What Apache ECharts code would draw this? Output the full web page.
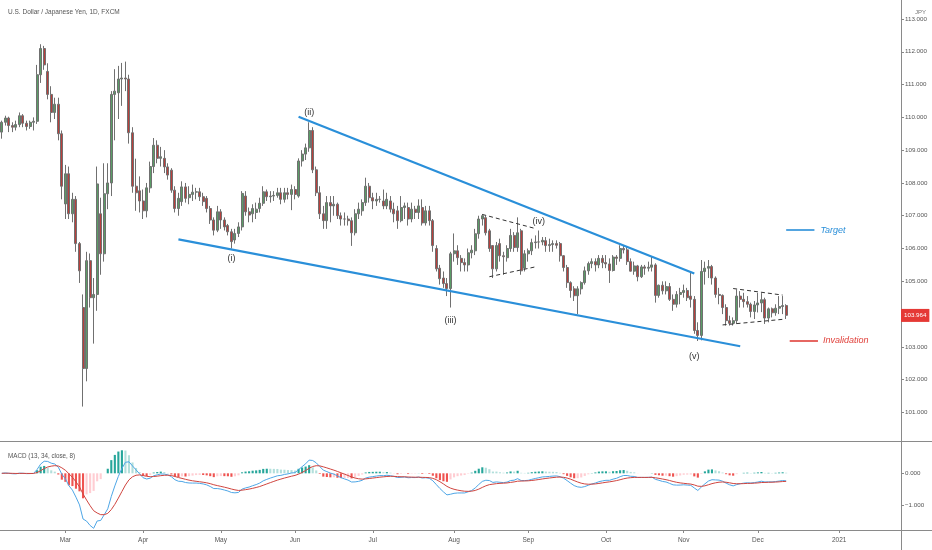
<!DOCTYPE html>
<html><head><meta charset="utf-8">
<script src="https://cdn.jsdelivr.net/npm/echarts@6/dist/echarts.min.js"></script>
<style>html,body{margin:0;padding:0;background:#fff}#c{width:932px;height:550px}</style>
</head><body><div id="c"></div>
<script>
// ---------- categories (trading days, incl. empty future space) ----------
const dates = [
"2020-02-05","2020-02-06","2020-02-07","2020-02-10","2020-02-11","2020-02-12","2020-02-13","2020-02-14","2020-02-17","2020-02-18","2020-02-19","2020-02-20","2020-02-21","2020-02-24","2020-02-25","2020-02-26","2020-02-27","2020-02-28",
"2020-03-02","2020-03-03","2020-03-04","2020-03-05","2020-03-06","2020-03-09","2020-03-10","2020-03-11","2020-03-12","2020-03-13","2020-03-16","2020-03-17","2020-03-18","2020-03-19","2020-03-20","2020-03-23","2020-03-24","2020-03-25","2020-03-26","2020-03-27","2020-03-30","2020-03-31",
"2020-04-01","2020-04-02","2020-04-03","2020-04-06","2020-04-07","2020-04-08","2020-04-09","2020-04-10","2020-04-13","2020-04-14","2020-04-15","2020-04-16","2020-04-17","2020-04-20","2020-04-21","2020-04-22","2020-04-23","2020-04-24","2020-04-27","2020-04-28","2020-04-29","2020-04-30",
"2020-05-01","2020-05-04","2020-05-05","2020-05-06","2020-05-07","2020-05-08","2020-05-11","2020-05-12","2020-05-13","2020-05-14","2020-05-15","2020-05-18","2020-05-19","2020-05-20","2020-05-21","2020-05-22","2020-05-25","2020-05-26","2020-05-27","2020-05-28","2020-05-29",
"2020-06-01","2020-06-02","2020-06-03","2020-06-04","2020-06-05","2020-06-08","2020-06-09","2020-06-10","2020-06-11","2020-06-12","2020-06-15","2020-06-16","2020-06-17","2020-06-18","2020-06-19","2020-06-22","2020-06-23","2020-06-24","2020-06-25","2020-06-26","2020-06-29","2020-06-30",
"2020-07-01","2020-07-02","2020-07-03","2020-07-06","2020-07-07","2020-07-08","2020-07-09","2020-07-10","2020-07-13","2020-07-14","2020-07-15","2020-07-16","2020-07-17","2020-07-20","2020-07-21","2020-07-22","2020-07-23","2020-07-24","2020-07-27","2020-07-28","2020-07-29","2020-07-30","2020-07-31",
"2020-08-03","2020-08-04","2020-08-05","2020-08-06","2020-08-07","2020-08-10","2020-08-11","2020-08-12","2020-08-13","2020-08-14","2020-08-17","2020-08-18","2020-08-19","2020-08-20","2020-08-21","2020-08-24","2020-08-25","2020-08-26","2020-08-27","2020-08-28","2020-08-31",
"2020-09-01","2020-09-02","2020-09-03","2020-09-04","2020-09-07","2020-09-08","2020-09-09","2020-09-10","2020-09-11","2020-09-14","2020-09-15","2020-09-16","2020-09-17","2020-09-18","2020-09-21","2020-09-22","2020-09-23","2020-09-24","2020-09-25","2020-09-28","2020-09-29","2020-09-30",
"2020-10-01","2020-10-02","2020-10-05","2020-10-06","2020-10-07","2020-10-08","2020-10-09","2020-10-12","2020-10-13","2020-10-14","2020-10-15","2020-10-16","2020-10-19","2020-10-20","2020-10-21","2020-10-22","2020-10-23","2020-10-26","2020-10-27","2020-10-28","2020-10-29","2020-10-30",
"2020-11-02","2020-11-03","2020-11-04","2020-11-05","2020-11-06","2020-11-09","2020-11-10","2020-11-11","2020-11-12","2020-11-13","2020-11-16","2020-11-17","2020-11-18","2020-11-19","2020-11-20","2020-11-23","2020-11-24","2020-11-25","2020-11-26","2020-11-27","2020-11-30",
"2020-12-01","2020-12-02","2020-12-03","2020-12-04","2020-12-07","2020-12-08","2020-12-09","2020-12-10","2020-12-11","2020-12-14","2020-12-15","2020-12-16","2020-12-17","2020-12-18","2020-12-21","2020-12-22","2020-12-23","2020-12-24","2020-12-25","2020-12-28","2020-12-29","2020-12-30","2020-12-31",
"2021-01-01","2021-01-04","2021-01-05","2021-01-06","2021-01-07","2021-01-08","2021-01-11","2021-01-12","2021-01-13","2021-01-14","2021-01-15","2021-01-18","2021-01-19","2021-01-20","2021-01-21","2021-01-22","2021-01-25","2021-01-26"
];

// ---------- OHLC ----------
const opens = [
109.55,109.85,109.98,109.75,109.70,109.78,110.05,109.82,109.72,109.85,109.88,111.30,112.10,111.40,110.70,110.15,110.40,109.50,
107.36,108.28,107.06,107.50,106.15,104.20,102.34,105.63,104.50,104.60,107.06,105.84,107.67,108.00,110.70,110.75,111.17,111.20,111.17,109.53,107.90,107.76,
107.45,107.15,107.85,108.50,109.15,108.75,108.75,108.49,108.39,107.78,107.22,107.43,107.88,107.55,107.65,107.72,107.73,107.58,107.53,107.22,106.87,106.56,
107.12,106.87,106.70,106.51,106.26,106.46,106.66,107.60,107.12,107.06,107.10,107.22,107.38,107.73,107.58,107.60,107.62,107.70,107.50,107.70,107.65,
107.80,107.60,108.67,108.88,109.07,109.60,108.40,107.70,107.06,106.85,107.40,107.30,107.35,107.00,106.90,106.90,106.85,106.48,107.06,107.15,107.40,107.90,
107.55,107.45,107.50,107.45,107.30,107.45,107.20,107.15,106.85,107.25,107.25,106.90,107.20,107.10,107.25,106.78,107.15,106.85,106.00,105.40,105.10,104.93,104.78,
105.84,105.93,105.70,105.57,105.50,105.87,105.93,106.45,106.90,106.94,106.54,106.09,105.38,106.15,105.78,105.72,106.00,106.40,106.03,106.54,105.40,
105.84,105.93,106.18,106.20,106.20,106.24,106.09,106.12,106.15,106.15,105.78,105.42,104.96,104.77,104.56,104.77,104.96,105.32,105.54,105.60,105.50,105.70,
105.57,105.53,105.33,105.74,105.70,106.00,105.96,105.60,105.31,105.47,105.14,105.44,105.40,105.43,105.50,104.57,104.88,104.71,104.84,104.45,104.30,104.60,
104.66,104.72,104.55,104.45,103.50,103.35,105.30,105.40,105.45,105.10,104.60,104.57,104.20,103.80,103.72,103.80,104.55,104.45,104.38,104.30,104.08,
104.28,104.34,104.44,103.88,104.16,104.04,104.18,104.23,104.26
];
const closes = [
109.85,109.98,109.75,109.70,109.78,110.05,109.82,109.72,109.85,109.88,111.30,112.10,111.60,110.70,110.15,110.40,109.50,107.90,
108.28,107.06,107.50,106.15,105.32,102.34,105.63,104.50,104.60,107.97,105.84,107.67,108.00,110.70,110.80,111.17,111.20,111.17,109.53,107.90,107.70,107.45,
107.15,107.85,108.50,109.15,108.75,108.80,108.49,108.24,107.78,107.22,107.53,107.88,107.53,107.65,107.72,107.73,107.58,107.43,107.22,106.87,106.56,107.12,
106.87,106.66,106.51,106.21,106.46,106.66,107.68,107.12,107.02,107.22,107.20,107.38,107.73,107.58,107.60,107.62,107.70,107.50,107.70,107.65,107.80,
107.65,108.67,108.88,109.07,109.60,108.40,107.70,107.06,106.85,107.40,107.30,107.35,107.00,106.90,106.90,106.85,106.48,107.06,107.20,107.40,107.90,107.55,
107.45,107.50,107.50,107.30,107.50,107.20,107.06,106.85,107.25,107.30,106.90,107.20,107.10,107.30,106.78,107.15,106.85,106.09,105.38,105.08,104.93,104.78,105.84,
105.93,105.72,105.57,105.50,105.87,105.95,106.45,106.90,107.00,106.48,106.00,105.38,106.09,105.78,105.75,106.00,106.40,106.03,106.48,105.32,105.84,
105.93,106.18,106.20,106.20,106.25,106.09,106.12,106.15,106.10,105.78,105.42,104.96,104.72,104.56,104.77,104.96,105.32,105.54,105.60,105.50,105.70,105.57,
105.53,105.33,105.74,105.70,106.00,105.96,105.60,105.31,105.47,105.14,105.44,105.40,105.43,105.50,104.57,104.88,104.71,104.84,104.45,104.30,104.60,104.66,
104.72,104.50,104.45,103.50,103.35,105.30,105.40,105.45,105.10,104.60,104.57,104.20,103.80,103.72,103.80,104.55,104.45,104.38,104.30,104.08,104.28,
104.34,104.44,103.88,104.16,104.04,104.18,104.23,104.26,103.964
];
const lows = [
109.35,109.75,109.55,109.55,109.60,109.70,109.70,109.60,109.65,109.60,109.80,111.05,111.45,110.55,109.85,109.95,109.30,107.50,
106.90,106.90,106.80,105.90,104.95,101.18,101.95,104.20,103.10,104.10,105.20,105.60,107.20,107.60,109.30,109.95,110.35,110.80,109.20,107.70,107.15,107.10,
106.90,106.95,107.70,108.30,108.60,108.50,108.30,108.10,107.70,107.10,107.00,107.30,107.40,107.35,107.45,107.50,107.45,107.30,107.10,106.75,106.40,106.50,
106.60,106.55,106.40,106.00,106.15,106.35,106.55,107.00,106.80,106.80,106.90,107.10,107.30,107.45,107.40,107.45,107.55,107.35,107.40,107.50,107.17,
107.50,107.55,108.50,108.70,108.95,108.30,107.60,106.90,106.60,106.60,106.80,107.00,106.90,106.70,106.70,106.70,106.08,106.40,106.90,107.00,107.30,107.40,
107.20,107.30,107.40,107.20,107.20,107.10,106.80,106.60,106.80,106.90,106.70,106.80,106.90,106.90,106.70,106.70,106.70,105.90,105.30,104.90,104.80,104.55,104.20,
105.60,105.50,105.30,105.30,105.30,105.70,105.80,106.30,106.70,106.40,105.90,105.10,105.30,105.60,105.20,105.60,105.90,105.90,105.90,105.20,105.30,
105.60,105.80,106.00,106.00,106.10,105.90,105.90,105.90,106.00,105.60,105.30,104.80,104.50,104.40,104.00,104.60,104.90,105.20,105.40,105.30,105.40,105.40,
105.40,104.95,105.30,105.50,105.60,105.85,105.50,105.30,105.20,105.00,105.10,105.20,105.30,105.30,104.35,104.50,104.60,104.60,104.40,104.10,104.20,104.30,
104.50,104.40,104.20,103.40,103.18,103.20,104.90,105.10,104.90,104.50,104.30,104.00,103.65,103.65,103.65,103.70,104.20,104.20,104.20,103.90,103.85,
104.05,104.06,103.70,103.75,103.90,103.95,104.00,104.00,103.85
];
const highs = [
109.90,110.05,110.02,109.85,109.90,110.15,110.10,109.90,109.90,110.00,111.60,112.23,112.18,111.65,110.95,110.60,110.60,109.60,
108.55,108.50,107.70,107.60,106.20,104.60,105.90,105.85,105.10,108.50,107.55,108.60,108.60,110.80,111.47,111.57,111.66,111.70,111.30,109.70,108.74,108.20,
107.80,108.00,108.65,109.37,109.30,109.10,109.00,108.60,108.45,107.90,107.70,108.05,108.00,107.90,107.95,107.85,107.85,107.70,107.60,107.30,106.95,107.30,
107.20,106.95,106.75,106.60,106.60,106.80,107.75,107.75,107.25,107.35,107.40,107.55,107.90,107.80,107.75,107.75,107.85,107.85,107.85,107.85,107.95,
107.90,108.75,109.00,109.20,109.85,109.70,108.50,107.90,107.30,107.60,107.60,107.60,107.40,107.10,107.10,107.00,106.95,107.20,107.40,107.50,108.16,108.00,
107.70,107.70,107.60,107.80,107.70,107.60,107.40,107.30,107.60,107.40,107.40,107.40,107.30,107.50,107.50,107.30,107.30,106.90,106.10,105.50,105.30,105.10,105.90,
106.46,106.10,105.80,105.70,106.00,106.10,106.60,107.00,107.05,107.00,106.60,106.10,106.20,106.30,105.90,106.10,106.60,106.50,106.95,106.60,105.95,
106.00,106.30,106.40,106.55,106.35,106.35,106.30,106.25,106.25,106.20,105.80,105.50,105.00,104.85,104.85,105.00,105.45,105.60,105.70,105.70,105.80,105.80,
105.80,105.70,105.80,105.80,106.10,106.10,106.05,105.70,105.60,105.50,105.50,105.50,105.60,105.75,105.55,104.90,105.00,105.00,104.95,104.60,104.70,104.80,
104.90,104.80,105.30,104.55,103.75,105.65,105.60,105.65,105.50,105.15,104.80,104.60,104.30,103.95,103.90,104.75,104.70,104.65,104.55,104.35,104.40,
104.65,104.64,104.50,104.20,104.20,104.30,104.55,104.55,104.30
];

// ---------- axis ticks ----------
const priceTicks = [101,102,103,104,105,106,107,108,109,110,111,112,113];
const macdTicks = [0,-1];
const monthNames = ['Jan','Feb','Mar','Apr','May','Jun','Jul','Aug','Sep','Oct','Nov','Dec'];
const lastPrice = 103.964;

// ---------- annotations (date, price) ----------
const waveLabels = ['(i)','(ii)','(iii)','(iv)','(v)'];
const waveDates  = ['2020-05-06','2020-06-05','2020-07-31','2020-09-04','2020-11-05'];
const wavePrices = [105.71,110.16,103.79,106.81,102.72];
const upperLine = [['2020-06-02',110.02],['2020-11-05',105.24]];
const lowerLine = [['2020-04-15',106.28],['2020-11-24',103.02]];
const flagTop    = [['2020-08-13',107.04],['2020-09-03',106.61]];
const flagBottom = [['2020-08-17',105.14],['2020-09-03',105.44]];
const boxTop     = [['2020-11-20',104.78],['2020-12-10',104.58]];
const boxBottom  = [['2020-11-17',103.67],['2020-12-10',103.84]];
const targetLine = [['2020-12-11',106.56],['2020-12-23',106.56]];
const invalLine  = [['2020-12-14',103.19],['2020-12-24',103.19]];

// ---------- build ----------
const candles = opens.map((o,i)=>[o, closes[i], Math.min(lows[i],o,closes[i]), Math.max(highs[i],o,closes[i])]);
function ema(src,n){const k=2/(n+1);const out=[];let e=src[0];for(let i=0;i<src.length;i++){e=i===0?src[0]:src[i]*k+e*(1-k);out.push(e);}return out;}
const e13=ema(closes,13), e34=ema(closes,34);
const macd=e13.map((v,i)=>v-e34[i]);
const signal=ema(macd,8);
const hist=macd.map((v,i)=>v-signal[i]);
const histData=hist.map((h,i)=>{
  const p=i>0?hist[i-1]:0; let c;
  if(h>=0) c = h>=p ? '#26a69a' : '#b2dfdb'; else c = h<=p ? '#ef5350' : '#ffcdd2';
  return {value:h,itemStyle:{color:c}};
});
const isMonthStart=(idx)=> idx>0 && dates[idx].slice(0,7)!==dates[idx-1].slice(0,7);
const FONT='Liberation Sans';
const BLUE='#2a8fd9', RED='#e0403a';
const seg=(pts,style)=>[{coord:pts[0],lineStyle:style},{coord:pts[1]}];

const chart=echarts.init(document.getElementById('c'),null,{renderer:'canvas'});
chart.setOption({
  animation:false,
  backgroundColor:'#ffffff',
  textStyle:{fontFamily:FONT},
  title:[
    {text:'U.S. Dollar / Japanese Yen, 1D, FXCM',left:3,top:4,textStyle:{fontSize:6.5,fontWeight:'normal',color:'#555',fontFamily:FONT}},
    {text:'MACD (13, 34, close, 8)',left:3,top:448,textStyle:{fontSize:6.3,fontWeight:'normal',color:'#555',fontFamily:FONT}},
    {text:'JPY',left:910,top:4,textStyle:{fontSize:6,fontWeight:'normal',color:'#777',fontFamily:FONT}}
  ],
  grid:[
    {left:0,right:31,top:2.6,height:438.4},
    {left:0,right:31,top:443,height:87}
  ],
  xAxis:[
    {type:'category',gridIndex:0,data:dates,boundaryGap:true,show:false},
    {type:'category',gridIndex:1,data:dates,boundaryGap:true,
     axisLine:{show:false,onZero:false},
     axisTick:{show:true,alignWithLabel:true,interval:(i)=>isMonthStart(i),length:3,lineStyle:{color:'#888'}},
     axisLabel:{interval:(i)=>isMonthStart(i),fontSize:6.5,color:'#555',margin:7,fontFamily:FONT,
       formatter:(v)=>{const m=parseInt(v.slice(5,7),10);return m===1?v.slice(0,4):monthNames[m-1];}},
     splitLine:{show:false}}
  ],
  yAxis:[
    {type:'value',gridIndex:0,position:'right',min:100.13,max:113.5,scale:true,
     axisLine:{show:false},splitLine:{show:false},
     axisTick:{show:true,length:3,lineStyle:{color:'#888'},customValues:priceTicks},
     axisLabel:{customValues:priceTicks,fontSize:6.2,color:'#555',margin:4,fontFamily:FONT,formatter:(v)=>v.toFixed(3)}},
    {type:'value',gridIndex:1,position:'right',min:-1.788,max:0.956,
     axisLine:{show:false},splitLine:{show:false},
     axisTick:{show:true,length:3,lineStyle:{color:'#888'},customValues:macdTicks},
     axisLabel:{customValues:macdTicks,fontSize:6.2,color:'#555',margin:4,fontFamily:FONT,
       formatter:(v)=>(v<0?'\u2212':'')+Math.abs(v).toFixed(3)}}
  ],
  series:[
    {type:'candlestick',name:'USDJPY',xAxisIndex:0,yAxisIndex:0,data:candles,barWidth:'72%',clip:false,
     itemStyle:{color:'#5b9c67',color0:'#b8403d',borderColor:'#707070',borderColor0:'#707070',borderWidth:1},
     markLine:{symbol:'none',silent:true,animation:false,
       label:{show:false},
       data:[
         seg(upperLine,{color:BLUE,width:2.2,type:'solid'}),
         seg(lowerLine,{color:BLUE,width:2.2,type:'solid'}),
         seg(flagTop,{color:'#333',width:1,type:[4,3]}),
         seg(flagBottom,{color:'#333',width:1,type:[4,3]}),
         seg(boxTop,{color:'#333',width:1,type:[4,3]}),
         seg(boxBottom,{color:'#333',width:1,type:[4,3]}),
         [{coord:targetLine[0],lineStyle:{color:BLUE,width:1.6,type:'solid'},
           label:{show:true,position:'end',formatter:'Target',color:BLUE,fontStyle:'italic',fontSize:9,distance:6,fontFamily:FONT}},
          {coord:targetLine[1]}],
         [{coord:invalLine[0],lineStyle:{color:RED,width:1.6,type:'solid'},
           label:{show:true,position:'end',formatter:'Invalidation',color:RED,fontStyle:'italic',fontSize:9,distance:5,fontFamily:FONT}},
          {coord:invalLine[1]}],
         {yAxis:lastPrice,lineStyle:{color:'rgba(0,0,0,0)',width:1,type:'solid'},
          label:{show:true,position:'end',distance:0,formatter:lastPrice.toFixed(3),color:'#fff',backgroundColor:'#e53935',
                 padding:[4,3,3,3],fontSize:6.2,fontFamily:FONT}}
       ]},
     markPoint:{symbol:'circle',symbolSize:1,silent:true,itemStyle:{color:'rgba(0,0,0,0)'},
       label:{show:true,position:'inside',color:'#333',fontSize:9,fontFamily:FONT,formatter:(p)=>p.name},
       data:waveLabels.map((t,i)=>({name:t,coord:[waveDates[i],wavePrices[i]]}))}
    },
    {type:'bar',name:'Histogram',xAxisIndex:1,yAxisIndex:1,data:histData,barWidth:'60%'},
    {type:'line',name:'MACD',xAxisIndex:1,yAxisIndex:1,data:macd,showSymbol:false,symbol:'none',lineStyle:{color:'#4ea6e6',width:1}},
    {type:'line',name:'Signal',xAxisIndex:1,yAxisIndex:1,data:signal,showSymbol:false,symbol:'none',lineStyle:{color:'#d0453f',width:1}}
  ],
  graphic:[
    {type:'line',silent:true,shape:{x1:0,y1:441.5,x2:932,y2:441.5},style:{stroke:'#8a8a8a',lineWidth:1}},
    {type:'line',silent:true,shape:{x1:0,y1:530.5,x2:932,y2:530.5},style:{stroke:'#8a8a8a',lineWidth:1}},
    {type:'line',silent:true,shape:{x1:901.5,y1:0,x2:901.5,y2:550},style:{stroke:'#8a8a8a',lineWidth:1}}
  ]
});
</script></body></html>
